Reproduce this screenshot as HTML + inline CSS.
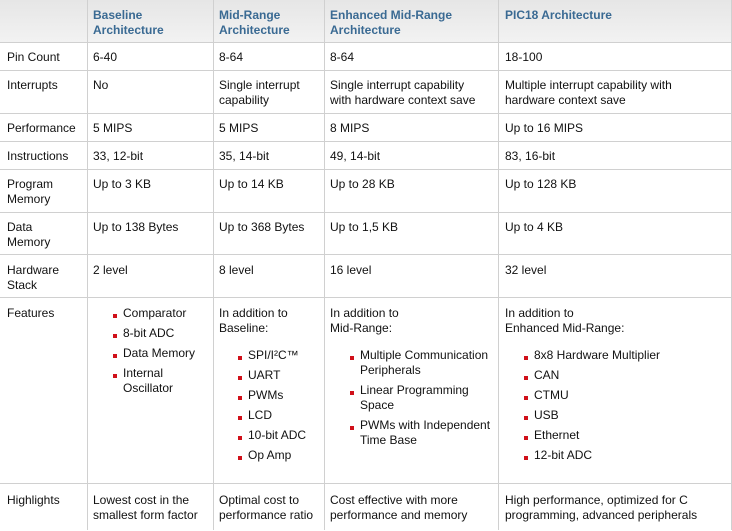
<!DOCTYPE html>
<html><head><style>
body{margin:0;width:732px;height:530px;overflow:hidden;background:#fff;font-family:"Liberation Sans",Arial,sans-serif;font-size:12px;color:#111;position:relative}
.hd{position:absolute;left:0;top:0;width:731px;height:42px;background:linear-gradient(#e6e6e6,#f2f2f2)}
.h{position:absolute;height:1px;left:0;width:731px;background:#d0d0d0}
.v{position:absolute;width:1px;top:0;height:530px;background:#d0d0d0}
.w{position:absolute;left:0;top:1px;width:732px;height:530px}
.t{position:absolute;line-height:15px;white-space:nowrap}
.th{font-weight:bold;color:#3a6a93;margin-top:1px}
.b{position:absolute;width:4px;height:4px;background:#d0101a}
</style></head><body>
<div class="hd"></div>
<div class="h" style="top:42px"></div><div class="h" style="top:70px"></div><div class="h" style="top:113px"></div><div class="h" style="top:141px"></div><div class="h" style="top:169px"></div><div class="h" style="top:212px"></div><div class="h" style="top:254px"></div><div class="h" style="top:297px"></div><div class="h" style="top:483px"></div>
<div class="v" style="left:87px"></div><div class="v" style="left:213px"></div><div class="v" style="left:324px"></div><div class="v" style="left:498px"></div><div class="v" style="left:731px"></div>
<div class="w">
<div class="t th" style="left:93px;top:6px">Baseline<br>Architecture</div>
<div class="t th" style="left:219px;top:6px">Mid-Range<br>Architecture</div>
<div class="t th" style="left:330px;top:6px">Enhanced Mid-Range<br>Architecture</div>
<div class="t th" style="left:505px;top:6px">PIC18 Architecture</div>

<div class="t" style="left:7px;top:49px">Pin Count</div>
<div class="t" style="left:93px;top:49px">6-40</div>
<div class="t" style="left:219px;top:49px">8-64</div>
<div class="t" style="left:330px;top:49px">8-64</div>
<div class="t" style="left:505px;top:49px">18-100</div>

<div class="t" style="left:7px;top:77px">Interrupts</div>
<div class="t" style="left:93px;top:77px">No</div>
<div class="t" style="left:219px;top:77px">Single interrupt<br>capability</div>
<div class="t" style="left:330px;top:77px">Single interrupt capability<br>with hardware context save</div>
<div class="t" style="left:505px;top:77px">Multiple interrupt capability with<br>hardware context save</div>

<div class="t" style="left:7px;top:120px">Performance</div>
<div class="t" style="left:93px;top:120px">5 MIPS</div>
<div class="t" style="left:219px;top:120px">5 MIPS</div>
<div class="t" style="left:330px;top:120px">8 MIPS</div>
<div class="t" style="left:505px;top:120px">Up to 16 MIPS</div>

<div class="t" style="left:7px;top:148px">Instructions</div>
<div class="t" style="left:93px;top:148px">33, 12-bit</div>
<div class="t" style="left:219px;top:148px">35, 14-bit</div>
<div class="t" style="left:330px;top:148px">49, 14-bit</div>
<div class="t" style="left:505px;top:148px">83, 16-bit</div>

<div class="t" style="left:7px;top:176px">Program<br>Memory</div>
<div class="t" style="left:93px;top:176px">Up to 3 KB</div>
<div class="t" style="left:219px;top:176px">Up to 14 KB</div>
<div class="t" style="left:330px;top:176px">Up to 28 KB</div>
<div class="t" style="left:505px;top:176px">Up to 128 KB</div>

<div class="t" style="left:7px;top:219px">Data<br>Memory</div>
<div class="t" style="left:93px;top:219px">Up to 138 Bytes</div>
<div class="t" style="left:219px;top:219px">Up to 368 Bytes</div>
<div class="t" style="left:330px;top:219px">Up to 1,5 KB</div>
<div class="t" style="left:505px;top:219px">Up to 4 KB</div>

<div class="t" style="left:7px;top:262px">Hardware<br>Stack</div>
<div class="t" style="left:93px;top:262px">2 level</div>
<div class="t" style="left:219px;top:262px">8 level</div>
<div class="t" style="left:330px;top:262px">16 level</div>
<div class="t" style="left:505px;top:262px">32 level</div>

<div class="t" style="left:7px;top:305px">Features</div>
<div class="b" style="left:113px;top:313px"></div><div class="t" style="left:123px;top:305px">Comparator</div>
<div class="b" style="left:113px;top:333px"></div><div class="t" style="left:123px;top:325px">8-bit ADC</div>
<div class="b" style="left:113px;top:353px"></div><div class="t" style="left:123px;top:345px">Data Memory</div>
<div class="b" style="left:113px;top:373px"></div><div class="t" style="left:123px;top:365px">Internal<br>Oscillator</div>

<div class="t" style="left:219px;top:305px">In addition to<br>Baseline:</div>
<div class="b" style="left:238px;top:355px"></div><div class="t" style="left:248px;top:347px">SPI/I²C™</div>
<div class="b" style="left:238px;top:375px"></div><div class="t" style="left:248px;top:367px">UART</div>
<div class="b" style="left:238px;top:395px"></div><div class="t" style="left:248px;top:387px">PWMs</div>
<div class="b" style="left:238px;top:415px"></div><div class="t" style="left:248px;top:407px">LCD</div>
<div class="b" style="left:238px;top:435px"></div><div class="t" style="left:248px;top:427px">10-bit ADC</div>
<div class="b" style="left:238px;top:455px"></div><div class="t" style="left:248px;top:447px">Op Amp</div>

<div class="t" style="left:330px;top:305px">In addition to<br>Mid-Range:</div>
<div class="b" style="left:350px;top:355px"></div><div class="t" style="left:360px;top:347px">Multiple Communication<br>Peripherals</div>
<div class="b" style="left:350px;top:390px"></div><div class="t" style="left:360px;top:382px">Linear Programming<br>Space</div>
<div class="b" style="left:350px;top:425px"></div><div class="t" style="left:360px;top:417px">PWMs with Independent<br>Time Base</div>

<div class="t" style="left:505px;top:305px">In addition to<br>Enhanced Mid-Range:</div>
<div class="b" style="left:524px;top:355px"></div><div class="t" style="left:534px;top:347px">8x8 Hardware Multiplier</div>
<div class="b" style="left:524px;top:375px"></div><div class="t" style="left:534px;top:367px">CAN</div>
<div class="b" style="left:524px;top:395px"></div><div class="t" style="left:534px;top:387px">CTMU</div>
<div class="b" style="left:524px;top:415px"></div><div class="t" style="left:534px;top:407px">USB</div>
<div class="b" style="left:524px;top:435px"></div><div class="t" style="left:534px;top:427px">Ethernet</div>
<div class="b" style="left:524px;top:455px"></div><div class="t" style="left:534px;top:447px">12-bit ADC</div>

<div class="t" style="left:7px;top:492px">Highlights</div>
<div class="t" style="left:93px;top:492px">Lowest cost in the<br>smallest form factor</div>
<div class="t" style="left:219px;top:492px">Optimal cost to<br>performance ratio</div>
<div class="t" style="left:330px;top:492px">Cost effective with more<br>performance and memory</div>
<div class="t" style="left:505px;top:492px">High performance, optimized for C<br>programming, advanced peripherals</div>
</div>
</body></html>
